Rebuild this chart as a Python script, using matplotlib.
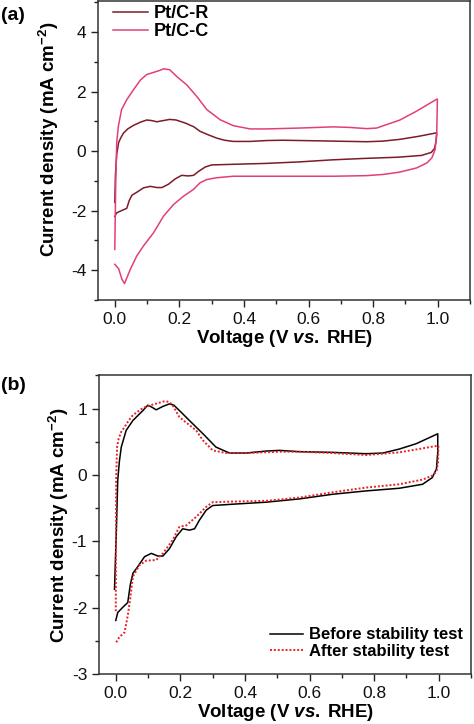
import matplotlib
matplotlib.use("Agg")
import matplotlib.pyplot as plt
from matplotlib.ticker import MultipleLocator, FormatStrFormatter, FuncFormatter

plt.rcParams['font.family'] = ['Liberation Sans', 'DejaVu Sans']
plt.rcParams['mathtext.fontset'] = 'custom'
plt.rcParams['mathtext.rm'] = 'Liberation Sans:bold'
plt.rcParams['mathtext.it'] = 'Liberation Sans:bold:italic'
plt.rcParams['mathtext.bf'] = 'Liberation Sans:bold'

# ---------------- Panel (a) data ----------------
# Pt/C-R : anodic (forward) branch
R_fwd_v = [0.000, 0.002, 0.006, 0.012, 0.020, 0.027, 0.040, 0.058, 0.080, 0.099, 0.115, 0.130, 0.150, 0.170,
           0.190, 0.220, 0.245, 0.264, 0.290, 0.316, 0.340, 0.367, 0.420, 0.470, 0.520, 0.574, 0.630, 0.677,
           0.730, 0.780, 0.830, 0.883, 0.940, 0.997]
R_fwd_j = [-1.72, -0.80, -0.10, 0.30, 0.48, 0.61, 0.75, 0.87, 0.98, 1.05, 1.03, 0.99, 1.03, 1.07,
           1.05, 0.94, 0.82, 0.67, 0.55, 0.44, 0.37, 0.33, 0.33, 0.36, 0.37, 0.36, 0.35, 0.34,
           0.33, 0.32, 0.34, 0.40, 0.50, 0.62]
# Pt/C-R : cathodic (reverse) branch
R_rev_v = [0.997, 0.995, 0.990, 0.980, 0.950, 0.878, 0.775, 0.672, 0.569, 0.465, 0.362, 0.300, 0.280,
           0.259, 0.244, 0.228, 0.207, 0.187, 0.166, 0.146, 0.130, 0.110, 0.089, 0.068, 0.053, 0.045,
           0.037, 0.022, 0.006, 0.000]
R_rev_j = [0.62, 0.34, 0.09, -0.04, -0.14, -0.20, -0.24, -0.29, -0.36, -0.41, -0.44, -0.46, -0.53,
           -0.68, -0.81, -0.83, -0.81, -0.93, -1.11, -1.22, -1.22, -1.18, -1.23, -1.38, -1.48, -1.65,
           -1.92, -1.99, -2.07, -2.19]

# Pt/C-C : anodic branch
C_fwd_v = [0.000, 0.003, 0.006, 0.011, 0.021, 0.037, 0.058, 0.080, 0.099, 0.120, 0.140, 0.151, 0.170,
           0.192, 0.223, 0.254, 0.285, 0.326, 0.367, 0.419, 0.470, 0.574, 0.677, 0.728, 0.780, 0.811,
           0.883, 0.935, 0.997]
C_fwd_j = [-3.30, -1.00, 0.30, 0.84, 1.40, 1.73, 2.07, 2.40, 2.58, 2.65, 2.72, 2.77, 2.74,
           2.51, 2.23, 1.84, 1.40, 1.06, 0.86, 0.75, 0.75, 0.78, 0.82, 0.80, 0.76, 0.78,
           1.05, 1.35, 1.75]
# Pt/C-C : cathodic branch
C_rev_v = [0.999, 0.997, 0.992, 0.982, 0.967, 0.935, 0.883, 0.831, 0.780, 0.677, 0.574, 0.470, 0.367,
           0.316, 0.285, 0.264, 0.244, 0.213, 0.182, 0.151, 0.120, 0.089, 0.068, 0.048, 0.030, 0.022,
           0.012, 0.000]
C_rev_j = [1.75, 0.60, 0.06, -0.22, -0.39, -0.56, -0.70, -0.78, -0.82, -0.84, -0.84, -0.84, -0.84,
           -0.89, -0.95, -1.06, -1.28, -1.51, -1.79, -2.18, -2.74, -3.18, -3.52, -3.97, -4.45, -4.30,
           -3.95, -3.80]

# ---------------- Panel (b) data ----------------
# Before stability test
B_fwd_v = [-0.004, 0.002, 0.006, 0.011, 0.017, 0.032, 0.053, 0.084, 0.099, 0.112, 0.125, 0.145, 0.166,
           0.180, 0.197, 0.228, 0.270, 0.310, 0.352, 0.404, 0.466, 0.507, 0.569, 0.672, 0.775, 0.827,
           0.878, 0.930, 0.997]
B_fwd_j = [-1.72, -0.80, -0.08, 0.20, 0.42, 0.67, 0.82, 0.97, 1.05, 1.02, 0.98, 1.03, 1.07,
           1.05, 0.97, 0.82, 0.62, 0.42, 0.33, 0.33, 0.36, 0.37, 0.35, 0.34, 0.32, 0.33,
           0.39, 0.47, 0.62]
B_rev_v = [0.997, 0.997, 0.993, 0.980, 0.950, 0.878, 0.775, 0.672, 0.569, 0.465, 0.362, 0.300, 0.280,
           0.259, 0.244, 0.228, 0.207, 0.187, 0.166, 0.146, 0.130, 0.110, 0.089, 0.068, 0.053, 0.045,
           0.037, 0.022, 0.006, 0.000]
B_rev_j = [0.62, 0.34, 0.09, -0.04, -0.14, -0.20, -0.24, -0.29, -0.36, -0.41, -0.44, -0.46, -0.53,
           -0.68, -0.81, -0.83, -0.81, -0.93, -1.11, -1.22, -1.22, -1.18, -1.23, -1.38, -1.48, -1.65,
           -1.92, -1.99, -2.07, -2.19]
# After stability test
A_fwd_v = [0.000, 0.001, 0.004, 0.009, 0.017, 0.027, 0.040, 0.053, 0.084, 0.115, 0.151, 0.165, 0.176,
           0.197, 0.228, 0.249, 0.270, 0.300, 0.342, 0.404, 0.507, 0.569, 0.672, 0.775, 0.878, 0.997]
A_fwd_j = [-2.05, -0.08, 0.42, 0.55, 0.65, 0.72, 0.82, 0.90, 1.01, 1.06, 1.11, 1.10, 1.05,
           0.87, 0.75, 0.67, 0.52, 0.37, 0.33, 0.33, 0.35, 0.35, 0.33, 0.30, 0.34, 0.44]
A_rev_v = [0.999, 0.998, 0.993, 0.980, 0.950, 0.878, 0.775, 0.672, 0.569, 0.465, 0.362, 0.300, 0.280,
           0.249, 0.218, 0.197, 0.176, 0.146, 0.125, 0.094, 0.073, 0.053, 0.045, 0.037, 0.027, 0.011,
           0.000]
A_rev_j = [0.44, 0.19, 0.05, -0.01, -0.07, -0.14, -0.19, -0.26, -0.34, -0.39, -0.40, -0.41, -0.48,
           -0.63, -0.76, -0.78, -0.98, -1.18, -1.28, -1.29, -1.36, -1.53, -1.85, -2.12, -2.37, -2.44,
           -2.53]

COL_R = '#7b1c28'
COL_C = '#e33e7c'

fig = plt.figure(figsize=(4.74, 7.24), dpi=100)
ax1 = fig.add_axes([98/474, 1 - 300/724, (470-98)/474, 299/724])
ax2 = fig.add_axes([99/474, 1 - 674.3/724, (471-99)/474, (674.3-375.3)/724])

ax1.plot(R_fwd_v + R_rev_v, R_fwd_j + R_rev_j, color=COL_R, lw=1.1, label='Pt/C-R')
ax1.plot(C_fwd_v + C_rev_v, C_fwd_j + C_rev_j, color=COL_C, lw=1.1, label='Pt/C-C')
ax1.set_xlim(-0.052, 1.1)
ax1.set_ylim(-5, 5.05)
ax1.yaxis.set_major_locator(MultipleLocator(2))
ax1.yaxis.set_minor_locator(MultipleLocator(1))

ax2.plot(B_fwd_v + B_rev_v, B_fwd_j + B_rev_j, color='black', lw=1.1, label='Before stability test')
ax2.plot(A_fwd_v + A_rev_v, A_fwd_j + A_rev_j, color='#e8202a', lw=1.4, ls=(0, (1, 1)),
         label='After stability test')
ax2.set_xlim(-0.052, 1.1)
ax2.set_ylim(-3, 1.5)
ax2.yaxis.set_major_locator(MultipleLocator(1))
ax2.yaxis.set_minor_locator(MultipleLocator(0.5))

for ax in (ax1, ax2):
    ax.xaxis.set_major_locator(MultipleLocator(0.2))
    ax.xaxis.set_minor_locator(MultipleLocator(0.1))
    ax.tick_params(which='major', direction='out', length=5, width=1.0, labelsize=12.5, colors='#222222')
    ax.tick_params(which='minor', direction='out', length=3, width=1.0, colors='#222222')
    ax.tick_params(axis='both', labelcolor='#111111')
    ax.xaxis.set_major_formatter(FormatStrFormatter('%.1f'))
    ax.yaxis.set_major_formatter(FuncFormatter(lambda v, p: '%d' % v))
    for s in ax.spines.values():
        s.set_color('#333333')
        s.set_linewidth(1.1)
    ax.set_xlabel('Voltage (V $\\mathit{vs.}$\u2009RHE)', fontsize=13.5, fontweight='bold', labelpad=1)
    ax.set_ylabel(r'Current density (mA cm$^{\mathregular{-2}}$)', fontsize=13.5, fontweight='bold')

ax1.yaxis.set_label_coords((61 - 98) / 372, (300 - 139) / 299)
ax2.yaxis.set_label_coords((71 - 99) / 372, 0.5)

ax1.legend(loc='upper left', bbox_to_anchor=((113 - 98) / 372, 1 - 4 / 299), frameon=False,
           prop={'weight': 'bold', 'size': 13}, handlelength=1.95, handletextpad=0.3,
           labelspacing=0.05, borderaxespad=0, borderpad=0)
ax2.legend(loc='upper left', bbox_to_anchor=((270 - 99) / 372, (674.3 - 627.5) / 299), frameon=False,
           prop={'weight': 'bold', 'size': 12}, handlelength=2.0, handletextpad=0.36,
           labelspacing=0.1, borderaxespad=0, borderpad=0)

fig.text(1/474, 1 - 15/724, '(a)', fontsize=14, fontweight='bold', va='center', ha='left')
fig.text(1/474, 1 - 386/724, '(b)', fontsize=14, fontweight='bold', va='center', ha='left')

fig.savefig('out.png', dpi=100)
